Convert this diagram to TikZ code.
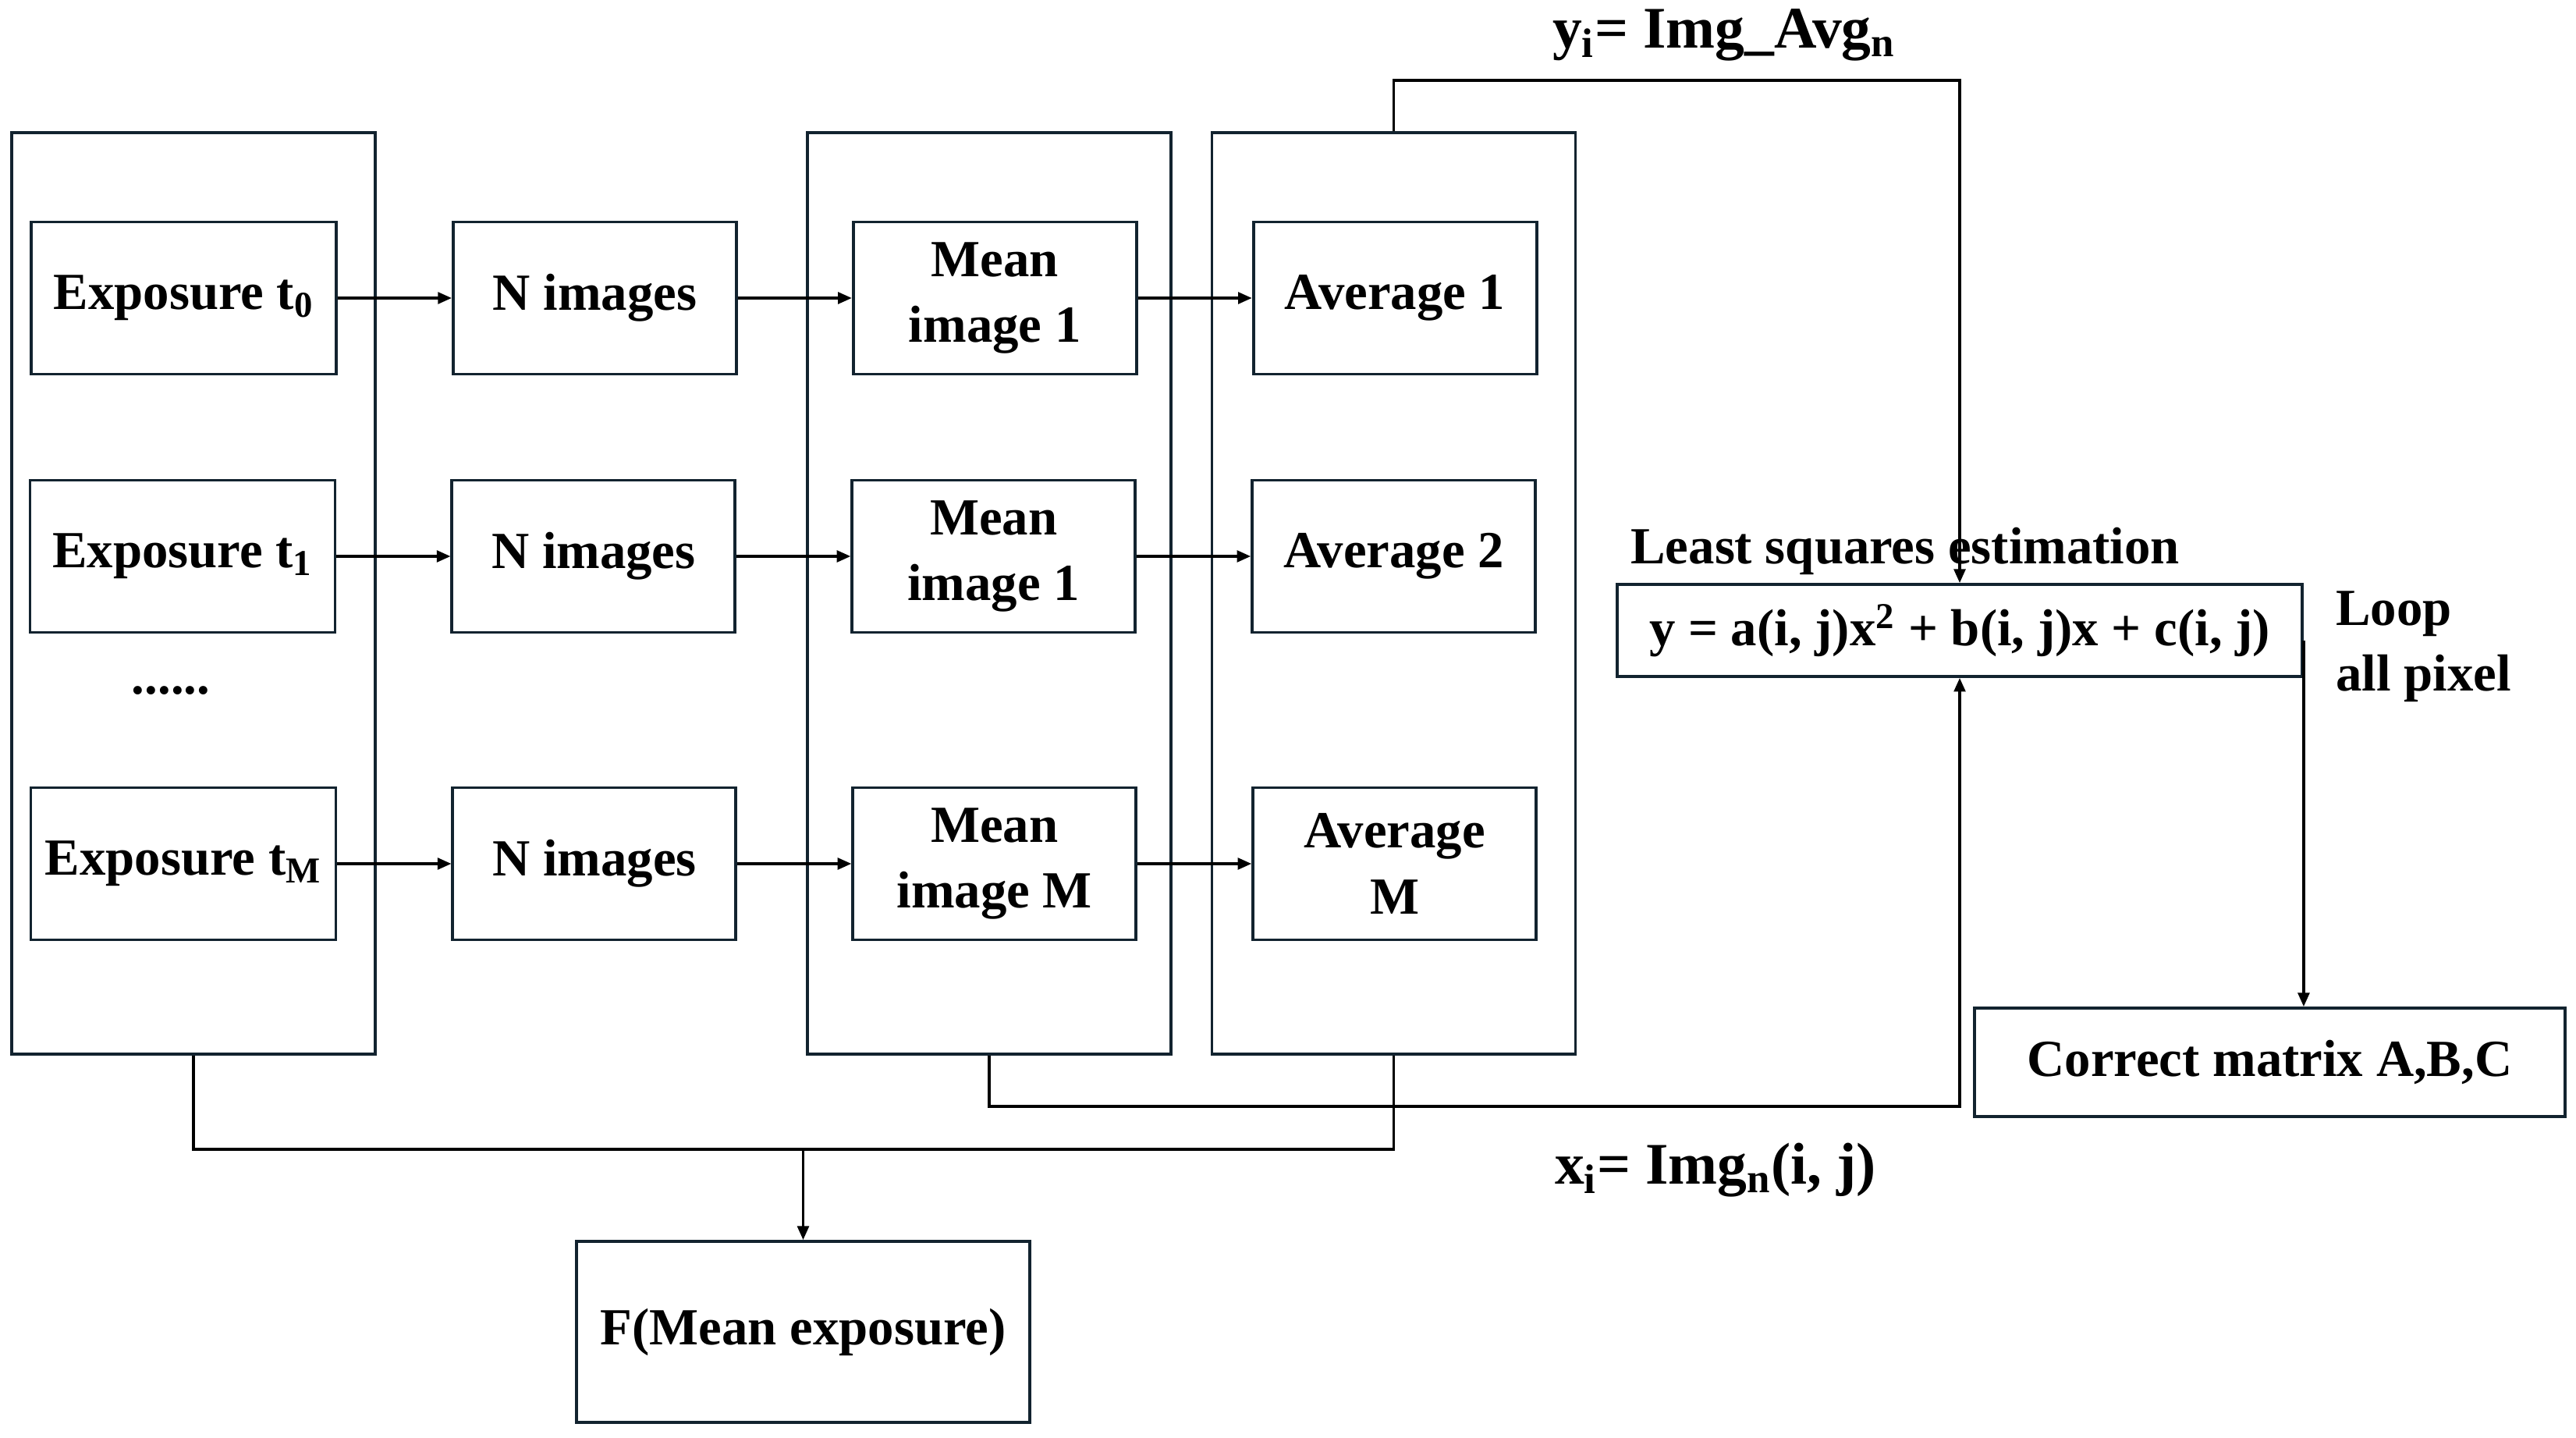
\documentclass[tikz,border=0pt]{standalone}
\usepackage{fontspec}
\setmainfont{Liberation Serif}
\usepackage{tikz}
\usetikzlibrary{
  arrows.meta,
  positioning,
  calc
}
\definecolor{boxline}{HTML}{12232F}

\begin{document}
\begin{tikzpicture}[scale=1.0, node distance=1.46cm, >={Triangle[length=5pt,width=4.2pt]},
  font=\fontsize{19}{24}\selectfont\bfseries,
  blk/.style={draw=boxline,line width=1.1pt,minimum width=3.63cm,minimum height=1.95cm,align=center,inner sep=2pt},
  grp/.style={draw=boxline,line width=1.1pt,minimum width=4.66cm,minimum height=11.81cm},
  lbl/.style={font=\fontsize{21.5}{26}\selectfont\bfseries},
  conn/.style={line width=0.9pt}]
\useasboundingbox (0,0) rectangle (33.02,-18.43);

% frames round the three columns
\node[grp] (grpA) at (2.48,-7.605) {};
\node[grp] (grpB) at (12.68,-7.605) {};
\node[grp] (grpC) at (17.865,-7.605) {};

% exposure rows
\node[blk,minimum width=3.91cm] (exp0) at (2.355,-3.82) {Exposure t\textsubscript{0}};
\node[blk,minimum width=3.91cm] (exp1) at (2.34,-7.13) {Exposure t\textsubscript{1}};
\node[blk,minimum width=3.91cm] (expM) at (2.35,-11.07) {Exposure t\textsubscript{M}};
\node (dots) at (2.19,-8.85) {......};

\node[blk,right=of exp0] (nimg0) {N images};
\node[blk,right=of exp1] (nimg1) {N images};
\node[blk,right=of expM] (nimgM) {N images};

\node[blk,right=of nimg0] (mean0) {Mean\\image 1};
\node[blk,right=of nimg1] (mean1) {Mean\\image 1};
\node[blk,right=of nimgM] (meanM) {Mean\\image M};

\node[blk,right=of mean0] (avg0) {Average 1};
\node[blk,right=of mean1] (avg1) {Average 2};
\node[blk,right=of meanM] (avgM) {Average\\M};

% fitting and output
\node[blk,minimum width=8.78cm,minimum height=1.18cm] (eqn) at (25.12,-8.08) {y = a(i, j)x\textsuperscript{2} + b(i, j)x + c(i, j)};
\node[anchor=base west] (lsq) at (20.78,-7.23) {Least squares estimation};
\node[align=left,anchor=west] (loop) at (29.82,-8.29) {Loop\\all pixel};
\node[blk,minimum width=7.57cm,minimum height=1.39cm] (corr) at (29.095,-13.615) {Correct matrix A,B,C};
\node[blk,minimum width=5.81cm,minimum height=2.32cm] (fexp) at (10.295,-17.07) {F(Mean exposure)};

\node[lbl] (ylab) at (22.1,-0.45) {y\textsubscript{i}= Img\_Avg\textsubscript{n}};
\node[lbl] (xlab) at (21.99,-15.0) {x\textsubscript{i}= Img\textsubscript{n}(i, j)};

\foreach \r in {0,1,M} {
  \draw[->,conn] (exp\r) -- (nimg\r);
  \draw[->,conn] (nimg\r) -- (mean\r);
  \draw[->,conn] (mean\r) -- (avg\r);
}

\draw[->,conn] (grpC.north) -- ++(0,0.65) -| (eqn.north);
\draw[->,conn] (grpB.south) -- ++(0,-0.65) -| (eqn.south);
\draw[conn] (grpA.south) -- ++(0,-1.2) coordinate (bus) -| (grpC.south);
\draw[->,conn] (bus -| fexp.north) -- (fexp.north);
\draw[->,conn] ([yshift=-0.13cm]eqn.east) -- (eqn.east |- corr.north);
\end{tikzpicture}
\end{document}
